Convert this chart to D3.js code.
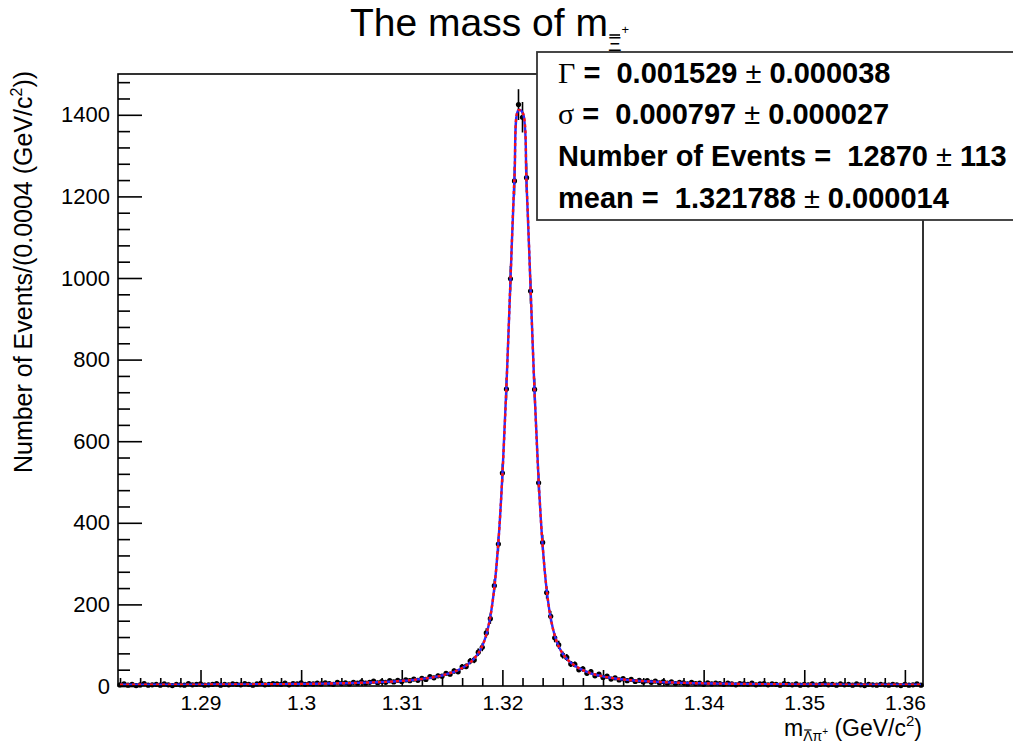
<!DOCTYPE html>
<html><head><meta charset="utf-8">
<script src="https://cdn.jsdelivr.net/npm/d3@7"></script>
<style>
body{margin:0;background:#fff}
text{font-family:"Liberation Sans",Arial,sans-serif;fill:#000}
</style>
</head><body>
<svg id="c" width="1013" height="745"></svg>
<script>
// Histogram binning: 200 bins of 0.0004 GeV/c^2
const binLow = 1.2818;
const binWidth = 0.0004;

// Events per bin
const counts = [
  3, 5, 2, 4, 1, 3, 6, 2, 3, 4,
  2, 5, 3, 1, 4, 3, 2, 6, 3, 4,
  5, 2, 3, 4, 6, 2, 4, 3, 5, 4,
  3, 6, 4, 2, 5, 7, 3, 4, 6, 5,
  4, 7, 3, 6, 5, 8, 4, 6, 5, 7,
  5, 8, 6, 4, 9, 6, 8, 5, 9, 7,
  10, 7, 9, 12, 8, 11, 9, 13, 10, 14,
  11, 15, 13, 17, 14, 19, 16, 23, 20, 25,
  24, 31, 29, 37, 35, 47, 48, 61, 64, 83,
  95, 130, 165, 246, 348, 522, 728, 998, 1238, 1425,
  1394, 1246, 968, 727, 498, 352, 229, 171, 118, 101,
  76, 70, 54, 53, 40, 42, 31, 35, 25, 29,
  21, 24, 17, 20, 15, 18, 13, 16, 11, 14,
  10, 13, 9, 12, 8, 11, 7, 10, 6, 9,
  8, 5, 9, 6, 7, 4, 8, 5, 7, 6,
  4, 7, 5, 3, 6, 5, 4, 7, 3, 5,
  6, 3, 5, 4, 2, 6, 4, 3, 5, 2,
  4, 3, 5, 2, 4, 6, 3, 4, 2, 5,
  3, 4, 2, 5, 3, 1, 4, 3, 2, 4,
  3, 2, 4, 3, 1, 4, 2, 3, 5, 2
];

// Fitted line shape evaluated at the bin centres
const fitValues = [
  2.9, 2.9, 2.9, 2.9, 3.0, 3.0, 3.0, 3.0, 3.1, 3.1,
  3.1, 3.1, 3.2, 3.2, 3.2, 3.2, 3.3, 3.3, 3.3, 3.4,
  3.4, 3.4, 3.5, 3.5, 3.6, 3.6, 3.7, 3.7, 3.8, 3.9,
  3.9, 4.0, 4.0, 4.1, 4.2, 4.2, 4.3, 4.4, 4.4, 4.5,
  4.6, 4.7, 4.8, 4.9, 5.0, 5.1, 5.2, 5.3, 5.5, 5.6,
  5.8, 5.9, 6.1, 6.3, 6.5, 6.7, 6.9, 7.1, 7.4, 7.7,
  8.0, 8.3, 8.6, 8.9, 9.3, 9.7, 10.1, 10.6, 11.2, 11.9,
  12.6, 13.3, 14.2, 15.1, 16.2, 17.3, 18.6, 20.0, 21.7, 23.6,
  25.8, 28.4, 31.4, 34.9, 39.1, 44.1, 50.2, 57.7, 67.3, 80.1,
  98.1, 125.7, 169.8, 241.1, 352.6, 515.7, 733.6, 991.8, 1245.7, 1411.5,
  1405.9, 1232, 976, 719, 504, 344.4, 235.8, 166.5, 123.7, 96.9,
  79.1, 66.6, 57.1, 49.8, 43.8, 38.8, 34.7, 31.2, 28.2, 25.7,
  23.6, 21.6, 20.0, 18.5, 17.2, 16.1, 15.0, 14.1, 13.3, 12.6,
  12.0, 11.4, 10.9, 10.4, 9.7, 9.3, 8.9, 8.6, 8.2, 7.9,
  7.6, 7.3, 7.1, 6.9, 6.7, 6.5, 6.3, 6.1, 6.0, 5.8,
  5.7, 5.5, 5.4, 5.3, 5.2, 5.0, 4.9, 4.8, 4.7, 4.6,
  4.5, 4.5, 4.4, 4.3, 4.2, 4.2, 4.1, 4.0, 4.0, 3.9,
  3.8, 3.8, 3.7, 3.7, 3.6, 3.6, 3.6, 3.5, 3.5, 3.5,
  3.4, 3.4, 3.4, 3.3, 3.3, 3.3, 3.3, 3.2, 3.2, 3.2,
  3.1, 3.1, 3.1, 3.1, 3.0, 3.0, 3.0, 3.0, 2.9, 2.9
];

const xMajorTicks = [1.29, 1.30, 1.31, 1.32, 1.33, 1.34, 1.35, 1.36];
const yMajorTicks = [0, 200, 400, 600, 800, 1000, 1200, 1400];

// Fit results
const statNames  = ["\u0393", "\u03c3", "Number of Events", "mean"];
const statValues = ["0.001529", "0.000797", "12870", "1.321788"];
const statErrors = ["0.000038", "0.000027", "113", "0.000014"];

(function draw() {
  const svg = d3.select("#c");
  const frameL = 118, frameR = 923, frameT = 74, frameB = 686;

  const x = d3.scaleLinear().domain([binLow, binLow + binWidth * counts.length]).range([frameL, frameR]);
  const y = d3.scaleLinear().domain([0, 1500]).range([frameB, frameT]);

  const bins = counts.map((n, i) => ({
    lo: binLow + i * binWidth,
    hi: binLow + (i + 1) * binWidth,
    c: binLow + (i + 0.5) * binWidth,
    n
  }));

  // ---- axes (ticks pointing into the frame) ----
  const xMinor = d3.range(1.282, 1.3615, 0.002).filter(v => !xMajorTicks.some(t => Math.abs(t - v) < 1e-6));
  const yMinor = d3.range(0, 1500, 40).filter(v => v % 200 !== 0);

  const gx = svg.append("g").attr("transform", `translate(0,${frameB})`);
  gx.call(d3.axisBottom(x).tickValues(xMajorTicks).tickSize(-16).tickPadding(9)
    .tickFormat(d => String(+d.toFixed(2))));
  gx.append("g").call(d3.axisBottom(x).tickValues(xMinor).tickSize(-8).tickFormat(""));
  gx.selectAll(".tick text").attr("font-size", 21);

  const gy = svg.append("g").attr("transform", `translate(${frameL},0)`);
  gy.call(d3.axisLeft(y).tickValues(yMajorTicks).tickSize(-24).tickPadding(8).tickFormat(d => String(d)));
  gy.append("g").call(d3.axisLeft(y).tickValues(yMinor).tickSize(-12).tickFormat(""));
  gy.selectAll(".tick text").attr("font-size", 22);

  svg.selectAll(".domain").remove();
  svg.selectAll(".tick line").attr("stroke", "#000").attr("stroke-width", 1.6);
  svg.selectAll(".tick text").attr("fill", "#000")
    .attr("font-family", "'Liberation Sans', Arial, sans-serif");

  // ---- data points with error bars ----
  const gData = svg.append("g").attr("stroke", "#000").attr("stroke-width", 1.6);
  gData.selectAll("line.h").data(bins).join("line").attr("class", "h")
    .attr("x1", d => x(d.lo)).attr("x2", d => x(d.hi))
    .attr("y1", d => y(d.n)).attr("y2", d => y(d.n));
  gData.selectAll("line.v").data(bins).join("line").attr("class", "v")
    .attr("x1", d => x(d.c)).attr("x2", d => x(d.c))
    .attr("y1", d => y(Math.max(0, d.n - Math.sqrt(d.n))))
    .attr("y2", d => y(d.n + Math.sqrt(d.n)));
  svg.append("g").selectAll("circle").data(bins).join("circle")
    .attr("cx", d => x(d.c)).attr("cy", d => y(d.n)).attr("r", 2.6).attr("fill", "#000");

  // ---- fit curve: solid blue total, dashed red signal on top ----
  const fitPts = fitValues.map((v, i) => [binLow + (i + 0.5) * binWidth, v]);
  const line = d3.line().x(d => x(d[0])).y(d => y(d[1])).curve(d3.curveCatmullRom.alpha(0.5));
  svg.append("path").attr("d", line(fitPts)).attr("fill", "none")
    .attr("stroke", "#2b2bff").attr("stroke-width", 2.4);
  svg.append("path").attr("d", line(fitPts)).attr("fill", "none")
    .attr("stroke", "#ff1010").attr("stroke-width", 2.4).attr("stroke-dasharray", "3,3");

  // ---- frame ----
  svg.append("rect").attr("x", frameL).attr("y", frameT).attr("width", frameR - frameL).attr("height", frameB - frameT)
    .attr("fill", "none").attr("stroke", "#000").attr("stroke-width", 1.6);

  // ---- statistics box ----
  svg.append("rect").attr("x", 537).attr("y", 52).attr("width", 520).attr("height", 168)
    .attr("fill", "#fff").attr("stroke", "#333").attr("stroke-width", 1.8);
  const statY = [83, 124, 166, 208];
  statNames.forEach((name, i) => {
    const t = svg.append("text").attr("x", 558).attr("y", statY[i])
      .attr("font-size", 29).attr("font-weight", "bold").style("white-space", "pre");
    if (i < 2) {
      t.append("tspan").attr("font-family", "'Liberation Serif', serif").attr("font-weight", "normal")
        .attr("font-size", 30).text(name);
      t.append("tspan").text(" =  " + statValues[i] + " ");
    } else {
      t.append("tspan").text(name + " =  " + statValues[i] + " ");
    }
    t.append("tspan").attr("font-weight", "normal").text("\u00b1");
    t.append("tspan").text(" " + statErrors[i]);
  });

  // ---- title ----
  const title = svg.append("text").attr("x", 350).attr("y", 36).attr("font-size", 39);
  title.append("tspan").text("The mass of m");
  title.append("tspan").attr("font-size", 21).attr("dy", 15).text("\u039e");
  title.append("tspan").attr("font-size", 13).attr("dy", -17).text("+");
  {
    const e = title.node().getExtentOfChar(13);
    svg.append("line").attr("x1", e.x + 1.5).attr("x2", e.x + e.width - 1.5)
      .attr("y1", e.y + 3).attr("y2", e.y + 3).attr("stroke", "#000").attr("stroke-width", 1.6);
  }

  // ---- y axis title ----
  const yt = svg.append("text").attr("transform", "translate(32,272) rotate(-90)")
    .attr("text-anchor", "middle").attr("font-size", 25);
  yt.append("tspan").text("Number of Events/(0.0004 (GeV/c");
  yt.append("tspan").attr("font-size", 16).attr("dy", -10).text("2");
  yt.append("tspan").attr("dy", 10).text("))");

  // ---- x axis title ----
  const xt = svg.append("text").attr("x", 922).attr("y", 736).attr("text-anchor", "end").attr("font-size", 23);
  xt.append("tspan").text("m");
  xt.append("tspan").attr("font-size", 14).attr("dy", 5).text("\u039b\u03c0");
  xt.append("tspan").attr("font-size", 10).attr("dy", -6).text("+");
  xt.append("tspan").attr("dy", 1).text(" (GeV/c");
  xt.append("tspan").attr("font-size", 15).attr("dy", -10).text("2");
  xt.append("tspan").attr("dy", 10).text(")");
  {
    const e = xt.node().getExtentOfChar(1);
    svg.append("line").attr("x1", e.x + 1).attr("x2", e.x + e.width - 1)
      .attr("y1", e.y + 2).attr("y2", e.y + 2).attr("stroke", "#000").attr("stroke-width", 1.2);
  }
})();
</script>
</body></html>
